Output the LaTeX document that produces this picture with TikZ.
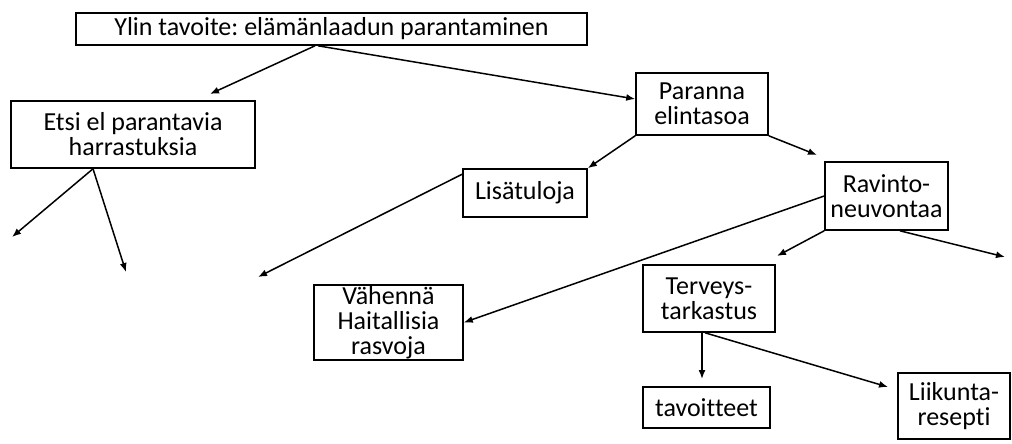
\documentclass[tikz,border=0pt]{standalone}
\usepackage{fontspec}
\setmainfont{Carlito}[Ligatures=NoCommon]
\frenchspacing
\usetikzlibrary{arrows.meta}
\begin{document}
\begin{tikzpicture}[x=1pt,y=-1pt,
  box/.style={draw,line width=1.6pt,inner sep=0pt,align=center,
    font=\fontsize{26}{25}\selectfont},
  conn/.style={line width=1.5pt,-{Latex[length=9pt,width=7pt]}}]
\useasboundingbox (0,0) rectangle (1012,444);
\node[box,minimum width=511pt,minimum height=32pt] (top) at (331.5,29) {Ylin tavoite: elämänlaadun parantaminen};
\node[box,minimum width=244pt,minimum height=67pt] (etsi) at (133,134.5) {Etsi el parantavia\\harrastuksia};
\node[box,minimum width=132pt,minimum height=62pt] (paranna) at (702,104) {Paranna\\elintasoa};
\node[box,minimum width=124pt,minimum height=48pt] (lisa) at (525,193) {Lisätuloja};
\node[box,minimum width=123pt,minimum height=68pt] (ravinto) at (886.5,196) {Ravinto-\\neuvontaa};
\node[box,minimum width=149pt,minimum height=75pt] (vahenna) at (388.5,322.5) {Vähennä\\Haitallisia\\rasvoja};
\node[box,minimum width=132pt,minimum height=67pt] (terveys) at (709,298.5) {Terveys-\\tarkastus};
\node[box,minimum width=127pt,minimum height=41pt] (tavoitteet) at (706.5,407.5) {tavoitteet};
\node[box,minimum width=112pt,minimum height=66pt] (liikunta) at (954,406) {Liikunta-\\resepti};
\coordinate (e1) at (210,94);
\coordinate (e2) at (12,237);
\coordinate (e3) at (126,272);
\coordinate (e4) at (817,155);
\coordinate (e5) at (258,277);
\coordinate (e6) at (777,256);
\coordinate (e7) at (1005,257);
\coordinate (e8) at (702,379);
\coordinate (e9) at (888,387);
\draw[conn] ([xshift=-16.5pt]top.south) -- (e1);
\draw[conn] ([xshift=-13.5pt]top.south) -- ([yshift=5pt]paranna.west);
\draw[conn] ([xshift=-40pt]etsi.south) -- (e2);
\draw[conn] ([xshift=-40pt]etsi.south) -- (e3);
\draw[conn] (paranna.south west) -- (lisa.north east);
\draw[conn] (paranna.south east) -- (e4);
\draw[conn] ([yshift=-6pt]lisa.north west) -- (e5);
\draw[conn] (ravinto.west) -- (vahenna.east);
\draw[conn] (ravinto.south west) -- (e6);
\draw[conn] ([xshift=13.5pt]ravinto.south) -- (e7);
\draw[conn] ([xshift=-7pt]terveys.south) -- (e8);
\draw[conn] ([xshift=-4pt]terveys.south) -- (e9);
\end{tikzpicture}
\end{document}
